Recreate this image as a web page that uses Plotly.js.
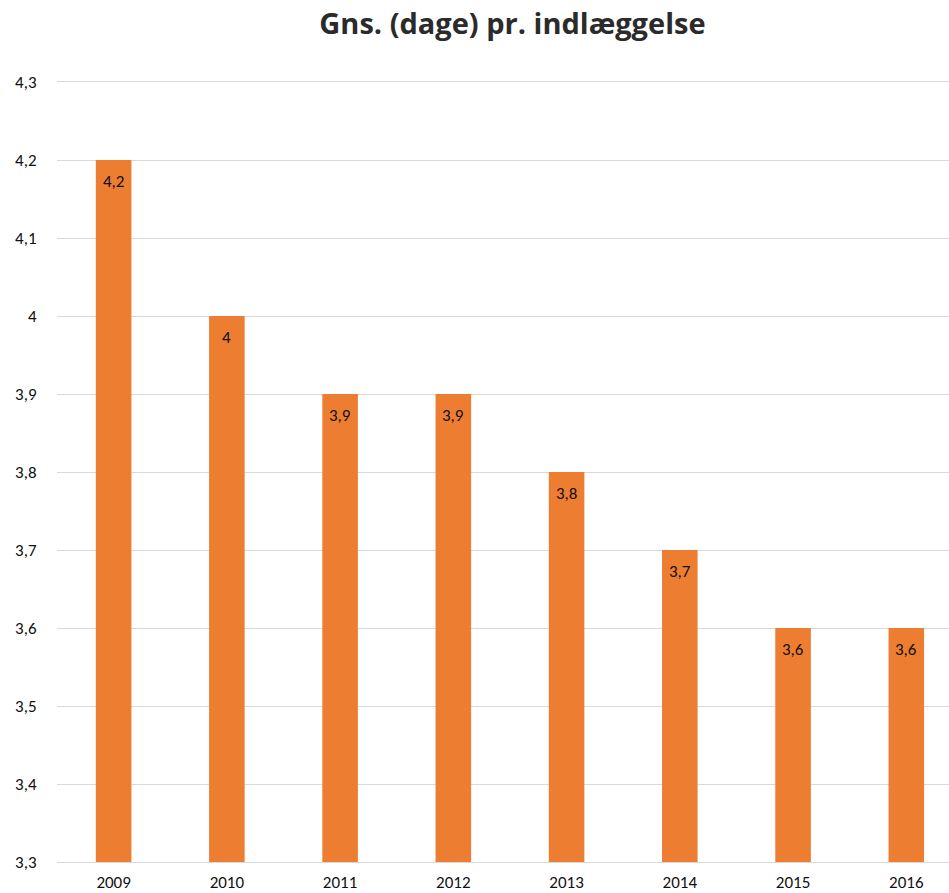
<!DOCTYPE html>
<html><head><meta charset="utf-8">
<script src="https://cdn.plot.ly/plotly-3.0.1.min.js"></script>
<style>html,body{margin:0;padding:0;background:#fff}#c{width:949px;height:893px}</style>
</head><body><div id="c"></div>
<script>
const years = ['2009','2010','2011','2012','2013','2014','2015','2016'];
const values = [4.2, 4.0, 3.9, 3.9, 3.8, 3.7, 3.6, 3.6];
const labels = values.map(v => String(v).replace('.', ','));
const yTicks = [3.3,3.4,3.5,3.6,3.7,3.8,3.9,4.0,4.1,4.2,4.3];
const yTickText = yTicks.map(v => String(Math.round(v*10)/10).replace('.', ','));
const baseValue = 3.3;

const lblFont = {family: 'Carlito, Lato, "Open Sans", sans-serif', size: 17, color: '#111'};

const trace = {
  type: 'bar', x: years, y: values.map(v => v - baseValue), base: baseValue,
  marker: {color: '#ED7D31'}, width: 0.314, hoverinfo: 'skip'
};

const annotations = years.map((yr, i) => ({
  x: i, y: values[i], xref: 'x', yref: 'y', text: labels[i],
  showarrow: false, yshift: -21, font: lblFont
}));

const layout = {
  width: 949, height: 893,
  margin: {l: 57, r: 0, t: 82, b: 31},
  paper_bgcolor: '#fff', plot_bgcolor: '#fff',
  separators: ', ',
  showlegend: false,
  title: {text: 'Gns. (dage) pr. indlæggelse', xref: 'container', x: 0.54, xanchor: 'center',
          yref: 'container', y: 0.973, yanchor: 'middle',
          font: {family: '"Open Sans", sans-serif', size: 29, color: '#2b2b2b', weight: 700}},
  xaxis: {type: 'category', range: [-0.5, 7.377], showgrid: false, zeroline: false,
          showline: true, mirror: true, linecolor: '#d9d9d9', linewidth: 1,
          ticks: 'outside', ticklen: 5, tickcolor: 'rgba(0,0,0,0)', tickfont: lblFont, fixedrange: true},
  yaxis: {range: [3.3, 4.3], tickvals: yTicks, ticktext: yTickText, showgrid: true, gridcolor: '#d9d9d9',
          gridwidth: 1, zeroline: false, showline: false, ticks: 'outside', ticklen: 16,
          tickcolor: 'rgba(0,0,0,0)', tickfont: lblFont, fixedrange: true},
  annotations: annotations
};
Plotly.newPlot('c', [trace], layout, {displayModeBar: false, staticPlot: true});
</script></body></html>
